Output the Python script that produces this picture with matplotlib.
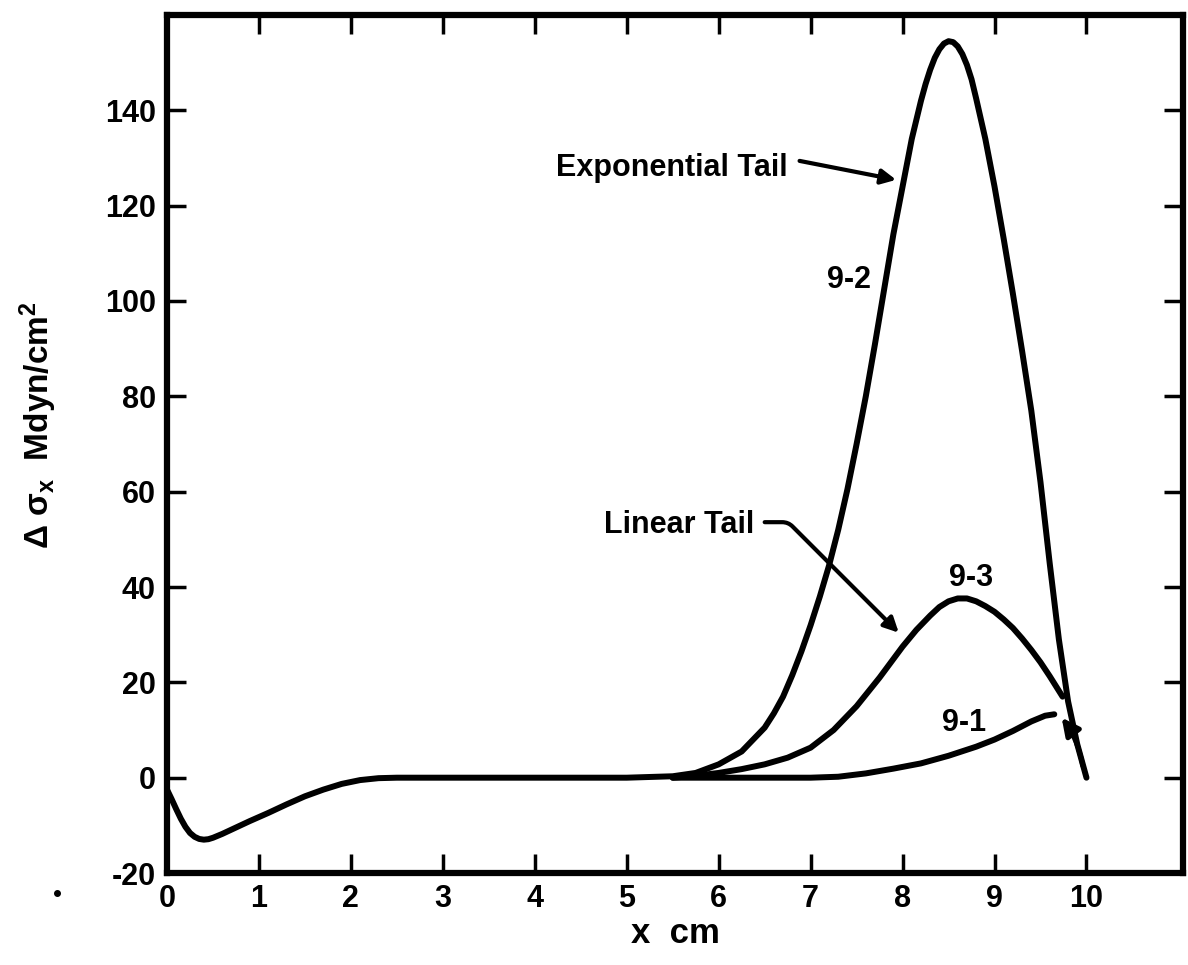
import matplotlib
matplotlib.use('Agg')
import matplotlib.pyplot as plt

# shared part of the three curves (x in cm, stress in Mdyn/cm^2)
base_x = [0, 0.05, 0.1, 0.15, 0.2, 0.25, 0.3, 0.35, 0.4, 0.45, 0.5, 0.6, 0.7, 0.9,
          1.1, 1.3, 1.5, 1.7, 1.9, 2.1, 2.3, 2.5, 3.0, 4.0, 5.0]
base_y = [-2.5, -4.5, -6.6, -8.6, -10.3, -11.6, -12.4, -12.85, -13.0, -12.9, -12.6,
          -11.8, -10.9, -9.1, -7.4, -5.6, -3.9, -2.5, -1.3, -0.5, -0.1, 0, 0, 0, 0]

# 9-2 exponential tail
x92 = [5.5, 5.75, 6.0, 6.25, 6.5, 6.6, 6.7, 6.8, 6.9, 7.0, 7.1, 7.2, 7.3, 7.4,
       7.5, 7.6, 7.7, 7.8, 7.9, 8.0, 8.1, 8.2, 8.25, 8.3, 8.35, 8.4, 8.45, 8.5,
       8.55, 8.6, 8.65, 8.7, 8.75, 8.8, 8.9, 9.0, 9.1, 9.2, 9.3, 9.4, 9.5, 9.6,
       9.7, 9.8, 9.9, 10.0]
y92 = [0.3, 1.0, 2.8, 5.5, 10.5, 13.5, 17, 21.5, 26.5, 32, 38, 44.5, 52, 60.5,
       70, 80, 91, 102.5, 114, 124, 134, 142, 145.5, 148.5, 151, 152.8, 154, 154.5,
       154.3, 153.4, 151.8, 149.5, 146.5, 142.5, 134, 124, 113, 101.5, 89.5, 77, 62, 45,
       29, 16, 7, 0]

# 9-3 linear tail
x93 = [5.5, 5.75, 6.0, 6.25, 6.5, 6.75, 7.0, 7.25, 7.5, 7.75, 8.0, 8.15, 8.3, 8.4,
       8.5, 8.6, 8.7, 8.8, 8.9, 9.0, 9.1, 9.2, 9.3, 9.4, 9.5, 9.6, 9.74]
y93 = [0, 0.4, 1.0, 1.8, 2.8, 4.2, 6.3, 10, 15, 21, 27.5, 31, 34, 35.8,
       37, 37.6, 37.6, 37.0, 36.0, 34.8, 33.2, 31.4, 29.2, 26.8, 24.2, 21.3, 17]

# 9-1
x91 = [5.5, 6.0, 6.5, 7.0, 7.3, 7.6, 7.9, 8.2, 8.5, 8.8, 9.0, 9.2, 9.4, 9.55, 9.65]
y91 = [0, 0, 0, 0, 0.2, 0.9, 1.9, 3.0, 4.6, 6.5, 8.0, 9.8, 11.8, 13.0, 13.3]

yticks = [-20, 0, 20, 40, 60, 80, 100, 120, 140]
xticks = [0, 1, 2, 3, 4, 5, 6, 7, 8, 9, 10]

plt.rcParams['font.family'] = ['Liberation Sans', 'DejaVu Sans']
plt.rcParams['font.weight'] = 'bold'
plt.rcParams['mathtext.fontset'] = 'custom'
plt.rcParams['mathtext.bf'] = 'Liberation Sans:bold'
plt.rcParams['mathtext.it'] = 'Liberation Sans:bold'
plt.rcParams['mathtext.rm'] = 'Liberation Sans:bold'
plt.rcParams['mathtext.default'] = 'bf'

fig = plt.figure(figsize=(11.88, 9.65), dpi=100)
ax = fig.add_axes([0.1406, 0.0953, 0.8552, 0.8892])

lw = 4.3
ax.plot(base_x + x92, base_y + y92, color='black', lw=lw,
        solid_capstyle='round', solid_joinstyle='round')
ax.plot(x93, y93, color='black', lw=lw, solid_capstyle='round', solid_joinstyle='round')
ax.plot(x91, y91, color='black', lw=lw, solid_capstyle='round', solid_joinstyle='round')

ax.set_xlim(0, 11.05)
ax.set_ylim(-20, 160)
ax.set_xticks(xticks)
ax.set_yticks(yticks)
ax.set_xticklabels([str(t) for t in xticks])
ax.set_yticklabels([str(t) for t in yticks])
ax.tick_params(direction='in', length=14, width=2.5, labelsize=22,
               top=True, right=True, pad=8)
for lab in ax.get_xticklabels() + ax.get_yticklabels():
    lab.set_fontweight('bold')
for s in ax.spines.values():
    s.set_linewidth(4.5)

ax.set_xlabel('x  cm', fontsize=25, fontweight='bold', labelpad=2)
fig.text(0.032, 0.56, 'Δ σ$_x$  Mdyn/cm$^2$', rotation=90,
         fontsize=24, fontweight='bold', ha='center', va='center')

# labels and arrows
ax.text(6.75, 128, 'Exponential Tail', fontsize=22, ha='right', va='center')
ax.annotate('', xy=(7.96, 125.3), xytext=(6.85, 129.5),
            arrowprops=dict(arrowstyle='-|>', lw=3, color='black', mutation_scale=22))
ax.text(7.42, 104.4, '9-2', fontsize=22, ha='center', va='center')
ax.text(5.57, 53, 'Linear Tail', fontsize=22, ha='center', va='center')
ax.annotate('', xy=(7.98, 30), xytext=(6.47, 53.6),
            arrowprops=dict(arrowstyle='-|>', lw=3, color='black', mutation_scale=22,
                            connectionstyle='angle,angleA=0,angleB=-45,rad=6'))
ax.text(8.75, 41.8, '9-3', fontsize=22, ha='center', va='center')
ax.text(8.67, 11.4, '9-1', fontsize=22, ha='center', va='center')
ax.annotate('', xy=(9.73, 12.6), xytext=(9.96, 2.5),
            arrowprops=dict(arrowstyle='-|>', lw=3.5, color='black', mutation_scale=26,
                            shrinkA=0, shrinkB=0,
                            connectionstyle='arc3,rad=0.12'))

# stray dot from the scan
fig.add_artist(plt.Line2D([0.048], [0.075], marker='o', ms=4, color='black'))

plt.savefig('out.png', dpi=100)
